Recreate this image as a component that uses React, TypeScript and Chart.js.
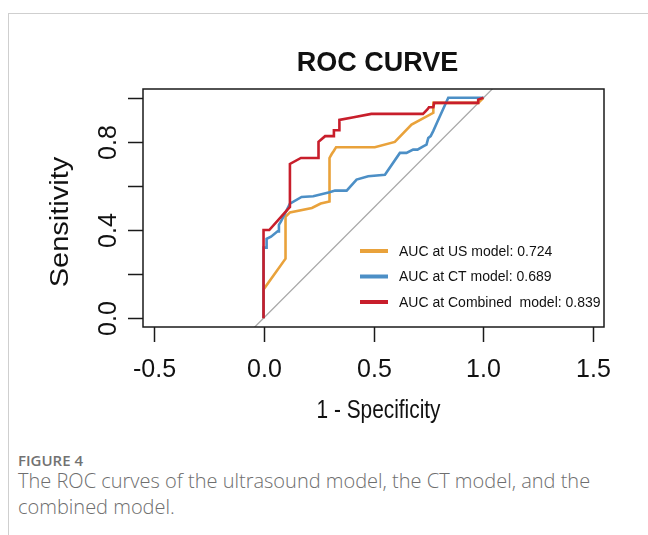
import React, { useEffect, useRef } from "react";
import { Chart, registerables } from "chart.js";

Chart.register(...registerables);

// ---- data ----
const usFpr = [0, 0, 0.10, 0.10, 0.12, 0.22, 0.26, 0.30, 0.30, 0.31, 0.32, 0.33, 0.506, 0.597, 0.673, 0.772, 0.772, 0.976, 1.0];
const usTpr = [0, 0.13, 0.27, 0.46, 0.48, 0.50, 0.52, 0.53, 0.727, 0.745, 0.76, 0.776, 0.776, 0.80, 0.879, 0.932, 0.977, 0.977, 1.0];

const ctFpr = [0, 0, 0.014, 0.014, 0.034, 0.064, 0.07, 0.07, 0.08, 0.12, 0.173, 0.226, 0.30, 0.325, 0.378, 0.423, 0.476, 0.552, 0.62, 0.65, 0.68, 0.70, 0.726, 0.741, 0.749, 0.76, 0.772, 0.79, 0.84, 1.0];
const ctTpr = [0, 0.32, 0.32, 0.36, 0.37, 0.394, 0.394, 0.424, 0.44, 0.52, 0.55, 0.553, 0.571, 0.579, 0.579, 0.629, 0.644, 0.651, 0.75, 0.75, 0.765, 0.765, 0.78, 0.788, 0.818, 0.826, 0.85, 0.89, 1.0, 1.0];

const combFpr = [0, 0, 0.026, 0.12, 0.12, 0.17, 0.25, 0.25, 0.28, 0.32, 0.32, 0.345, 0.345, 0.41, 0.49, 0.725, 0.745, 0.752, 0.772, 0.776, 0.976, 0.976, 1.0];
const combTpr = [0, 0.40, 0.40, 0.505, 0.70, 0.727, 0.727, 0.80, 0.826, 0.826, 0.853, 0.853, 0.90, 0.912, 0.927, 0.927, 0.947, 0.957, 0.957, 0.977, 0.977, 0.992, 1.0];

const refLine = [-0.1, 1.1];

const seriesLabels = ["AUC at US model: 0.724", "AUC at CT model: 0.689", "AUC at Combined  model: 0.839"];
const xTicks = [-0.5, 0, 0.5, 1.0, 1.5];
const yTicks = [0, 0.2, 0.4, 0.6, 0.8, 1.0];
const yTickLabels = ["0.0", "", "0.4", "", "0.8", ""];
const xTickLabels = ["-0.5", "0.0", "0.5", "1.0", "1.5"];

const chartTitle = "ROC CURVE";
const xTitle = "1 - Specificity";
const yTitle = "Sensitivity";

const COLORS = { us: "#E9A23B", ct: "#4C8FC6", comb: "#C81E2B", ref: "#A8A8A8" };
const FONT = "'Liberation Sans', Arial, sans-serif";

const toPts = (xs: number[], ys: number[]) => xs.map((v, i) => ({ x: v, y: ys[i] }));

const rPlugin = {
  id: "rstyle",
  afterDraw(chart: any) {
    const { ctx, chartArea: a, scales } = chart;
    const x = scales.x;
    const y = scales.y;
    ctx.save();
    // box
    ctx.strokeStyle = "#1a1a1a";
    ctx.lineWidth = 1.5;
    ctx.strokeRect(a.left, a.top, a.right - a.left, a.bottom - a.top);

    // x ticks
    ctx.lineWidth = 1.5;
    ctx.fillStyle = "#111";
    ctx.font = `25px ${FONT}`;
    ctx.textAlign = "center";
    ctx.textBaseline = "alphabetic";
    xTicks.forEach((v, i) => {
      const px = Math.round(x.getPixelForValue(v)) + 0.5;
      ctx.beginPath();
      ctx.moveTo(px, a.bottom);
      ctx.lineTo(px, a.bottom + 15);
      ctx.stroke();
      ctx.fillText(xTickLabels[i], px, a.bottom + 50);
    });

    // y ticks
    yTicks.forEach((v, i) => {
      const py = Math.round(y.getPixelForValue(v)) + 0.5;
      ctx.beginPath();
      ctx.moveTo(a.left, py);
      ctx.lineTo(a.left - 15, py);
      ctx.stroke();
      if (yTickLabels[i]) {
        ctx.save();
        ctx.translate(a.left - 27, py);
        ctx.rotate(-Math.PI / 2);
        ctx.fillText(yTickLabels[i], 0, 0);
        ctx.restore();
      }
    });

    // axis titles
    const cx = (a.left + a.right) / 2;
    const cy = (a.top + a.bottom) / 2;
    ctx.font = `26px ${FONT}`;
    ctx.fillText(xTitle, cx + 5, a.bottom + 91, 124);
    ctx.save();
    ctx.font = `25px ${FONT}`;
    ctx.translate(68, cy + 14);
    ctx.rotate(-Math.PI / 2);
    ctx.scale(1.16, 1);
    ctx.fillText(yTitle, 0, 0);
    ctx.restore();

    // main title
    ctx.font = `bold 27px ${FONT}`;
    ctx.fillText(chartTitle, cx + 4, 71);

    // legend (bottom-right, R style)
    const order = [2, 1, 0]; // datasets: comb(0), ct(1), us(2) -> legend US, CT, Combined
    ctx.font = `14px ${FONT}`;
    ctx.textAlign = "left";
    ctx.textBaseline = "middle";
    order.forEach((di, row) => {
      const ds = chart.data.datasets[di];
      const ly = a.bottom - 76 + row * 25.5;
      ctx.strokeStyle = ds.borderColor;
      ctx.lineWidth = 4;
      ctx.beginPath();
      ctx.moveTo(360, ly);
      ctx.lineTo(388, ly);
      ctx.stroke();
      ctx.fillStyle = "#111";
      ctx.fillText(ds.label, 399, ly + 1);
    });
    ctx.restore();
  },
};

function RocChart() {
  const ref = useRef<HTMLCanvasElement | null>(null);
  useEffect(() => {
    if (!ref.current) return;
    const chart = new Chart(ref.current, {
      type: "scatter",
      data: {
        datasets: [
          { label: seriesLabels[2], data: toPts(combFpr, combTpr), borderColor: COLORS.comb, order: 1 },
          { label: seriesLabels[1], data: toPts(ctFpr, ctTpr), borderColor: COLORS.ct, order: 2 },
          { label: seriesLabels[0], data: toPts(usFpr, usTpr), borderColor: COLORS.us, order: 3 },
          { label: "ref", data: toPts(refLine, refLine), borderColor: COLORS.ref, borderWidth: 1.3, order: 4, clip: 0 } as any,
        ].map((d: any) => ({
          showLine: true,
          pointRadius: 0,
          borderWidth: 2.6,
          tension: 0,
          fill: false,
          backgroundColor: d.borderColor,
          ...d,
        })),
      },
      options: {
        responsive: false,
        animation: false,
        devicePixelRatio: 1,
        layout: { padding: { left: 143, right: 44, top: 89, bottom: 113 } },
        plugins: { legend: { display: false }, title: { display: false }, tooltip: { enabled: false } },
        scales: {
          x: { type: "linear", min: -0.548, max: 1.548, display: false },
          y: { type: "linear", min: -0.04, max: 1.04, display: false },
        },
      },
      plugins: [rPlugin],
    });
    return () => chart.destroy();
  }, []);
  return <canvas ref={ref} width={648} height={440} style={{ position: "absolute", left: 0, top: 0 }} />;
}

export default function App() {
  return (
    <div style={{ position: "absolute", left: 0, top: 0, width: 648, height: 535, background: "#fff", overflow: "hidden" }}>
      <div
        style={{
          position: "absolute",
          left: 8,
          top: 13,
          width: 640,
          height: 530,
          borderTop: "1px solid #cfcfcf",
          borderLeft: "1px solid #cfcfcf",
        }}
      />
      <RocChart />
      <div
        style={{
          position: "absolute",
          left: 18,
          top: 450,
          fontFamily: "'Open Sans', sans-serif",
          fontSize: 15,
          fontWeight: 600,
          color: "#727272",
        }}
      >
        FIGURE 4
      </div>
      <div
        style={{
          position: "absolute",
          left: 18,
          top: 468,
          width: 626,
          fontFamily: "'Open Sans', sans-serif",
          fontSize: 20,
          fontWeight: 300,
          lineHeight: "26px",
          color: "#6e6e6e",
        }}
      >
        The ROC curves of the ultrasound model, the CT model, and the combined model.
      </div>
    </div>
  );
}
